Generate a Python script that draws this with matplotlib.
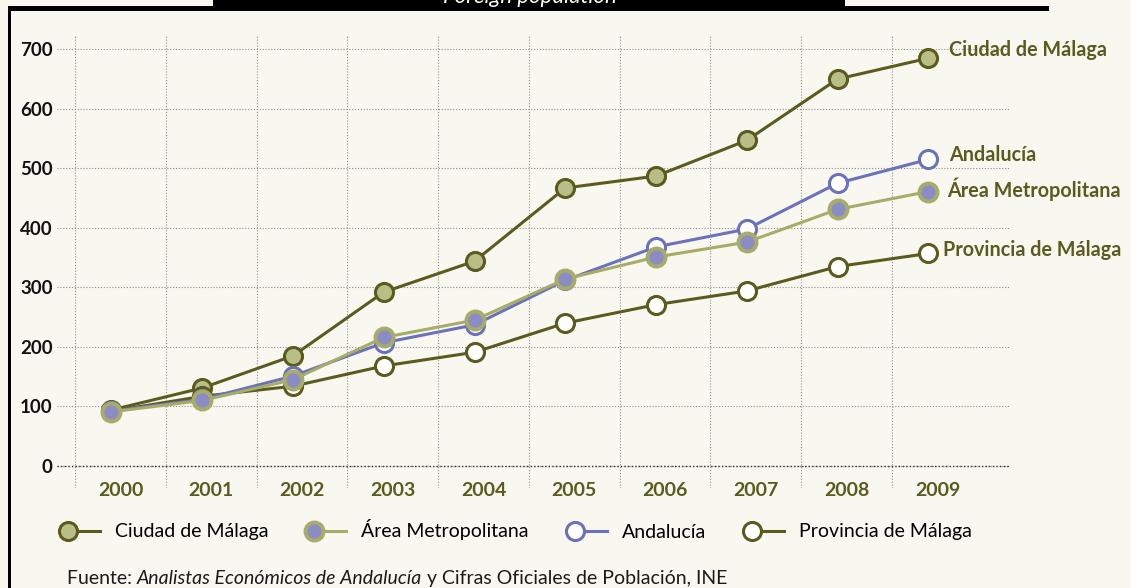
import matplotlib
matplotlib.use('Agg')
import matplotlib.pyplot as plt
import numpy as np
from matplotlib.legend_handler import HandlerLine2D
from matplotlib.lines import Line2D
from matplotlib.patches import Rectangle

plt.rcParams['font.family'] = ['Lato', 'DejaVu Sans']

# data
years = ['2000', '2001', '2002', '2003', '2004', '2005', '2006', '2007', '2008', '2009']
ciudad = [94, 131, 185, 292, 344, 467, 487, 547, 650, 685]
area = [91, 110, 145, 216, 245, 314, 351, 376, 431, 461]
andalucia = [92, 112, 151, 207, 237, 312, 368, 398, 475, 515]
provincia = [92, 117, 134, 168, 191, 240, 271, 294, 335, 357]
yticks = [0, 100, 200, 300, 400, 500, 600, 700]

bg = '#f9f8f0'
dark_olive = '#5b5a1f'
olive_fill = '#b9bd86'
blue = '#6c72b9'
light_olive = '#a7ac68'
purple = '#8a8cc5'
grid_col = '#8c8c8c'


class LeftMarkerHandler(HandlerLine2D):
    # marker sits at the left end of the handle, the line runs to the right
    def create_artists(self, legend, orig_handle, xdescent, ydescent,
                       width, height, fontsize, trans):
        y = (height - ydescent) / 2
        line = Line2D([-xdescent, -xdescent + width], [y, y], markevery=[0])
        self.update_prop(line, orig_handle, legend)
        line.set_transform(trans)
        return [line]


W, H = 1131, 588
fig = plt.figure(figsize=(W / 100, H / 100), dpi=100, facecolor=bg)
ax = fig.add_axes([57 / W, 1 - 488 / H, (1010 - 57) / W, (488 - 35) / H])
ax.set_facecolor(bg)

x = np.arange(len(years))
ax.set_xlim(-0.6, 9.9)
ax.set_ylim(-37, 724)
for s in ax.spines.values():
    s.set_visible(False)

dots = (0, (1, 1.6))
ax.set_axisbelow(True)
ax.set_yticks(yticks)
ax.set_yticklabels([str(v) for v in yticks], fontweight='bold')
ax.tick_params(axis='y', length=0, pad=3, labelsize=13.5, labelcolor='#111111')
ax.grid(axis='y', which='major', linestyle=dots, color=grid_col, linewidth=0.8)

ax.set_xticks(x - 0.4, minor=True)
ax.set_xticks(x + 0.1)
ax.set_xticklabels(years, fontweight='bold')
ax.tick_params(axis='x', which='both', length=0)
ax.tick_params(axis='x', which='major', pad=-4.5, labelsize=14, labelcolor=dark_olive)
ax.grid(axis='x', which='minor', linestyle=dots, color=grid_col, linewidth=0.8)
ax.grid(axis='x', which='major', visible=False)
ax.axhline(0, color='#333333', linestyle=dots, linewidth=1.0, zorder=1)

ms, mew, lw = 13, 2.2, 2.2
l_ciudad, = ax.plot(x, ciudad, '-o', color=dark_olive, lw=lw, ms=ms, mew=mew,
                    mfc=olive_fill, mec=dark_olive, zorder=3, label='Ciudad de Málaga')
l_prov, = ax.plot(x, provincia, '-o', color=dark_olive, lw=lw, ms=ms, mew=mew,
                  mfc='white', mec=dark_olive, zorder=4, label='Provincia de Málaga')
l_anda, = ax.plot(x, andalucia, '-o', color=blue, lw=lw, ms=ms, mew=mew,
                  mfc='white', mec=blue, zorder=5, label='Andalucía')
l_area, = ax.plot(x, area, '-o', color=light_olive, lw=lw, ms=ms, mew=mew + 0.6,
                  mfc=purple, mec=light_olive, zorder=6, label='Área Metropolitana')

# end labels
ends = [(ciudad, 'Ciudad de Málaga', (21, 8)),
        (andalucia, 'Andalucía', (21, 4)),
        (area, 'Área Metropolitana', (19, 2)),
        (provincia, 'Provincia de Málaga', (15, 3))]
for vals, name, off in ends:
    ax.annotate(name, xy=(x[-1], vals[-1]), xytext=off, textcoords='offset pixels',
                ha='left', va='center', fontsize=14.2, fontweight='bold',
                color=dark_olive, annotation_clip=False)

# legend
handles = [l_ciudad, l_area, l_anda, l_prov]
fig.legend(handles=handles, labels=[h.get_label() for h in handles], ncol=4,
           loc='center left', bbox_to_anchor=(68 / W, 1 - 530 / H),
           bbox_transform=fig.transFigure, frameon=False, fontsize=14,
           handlelength=1.65, handletextpad=0.77, columnspacing=2.35,
           borderpad=0, borderaxespad=0,
           handler_map={Line2D: LeftMarkerHandler()})

# source line
src_color = '#1a1a1a'
t1 = fig.text(67 / W, 1 - 587 / H, 'Fuente: ', fontsize=14, color=src_color,
              ha='left', va='bottom')
t2 = ax.annotate('Analistas Económicos de Andalucía', xy=(1, 0), xycoords=t1,
                 fontsize=14, style='italic', color=src_color, ha='left', va='bottom',
                 annotation_clip=False)
ax.annotate(' y Cifras Oficiales de Población, INE', xy=(1, 0), xycoords=t2,
            fontsize=14, color=src_color, ha='left', va='bottom', annotation_clip=False)

# frame decorations
fig.add_artist(Rectangle((213 / W, 1 - 6 / H), (845 - 213) / W, 6 / H,
                         transform=fig.transFigure, color='black', lw=0))
fig.add_artist(Rectangle((8 / W, 1 - 11 / H), (1049 - 8) / W, 5 / H,
                         transform=fig.transFigure, color='black', lw=0))
fig.add_artist(Rectangle((8 / W, 0), 3 / W, 1 - 6 / H,
                         transform=fig.transFigure, color='black', lw=0))
fig.text(530 / W, 1 - 3 / H, 'Foreign population', fontsize=16, style='italic',
         color='white', ha='center', va='baseline')

fig.savefig('out.png', dpi=100, facecolor=bg)
